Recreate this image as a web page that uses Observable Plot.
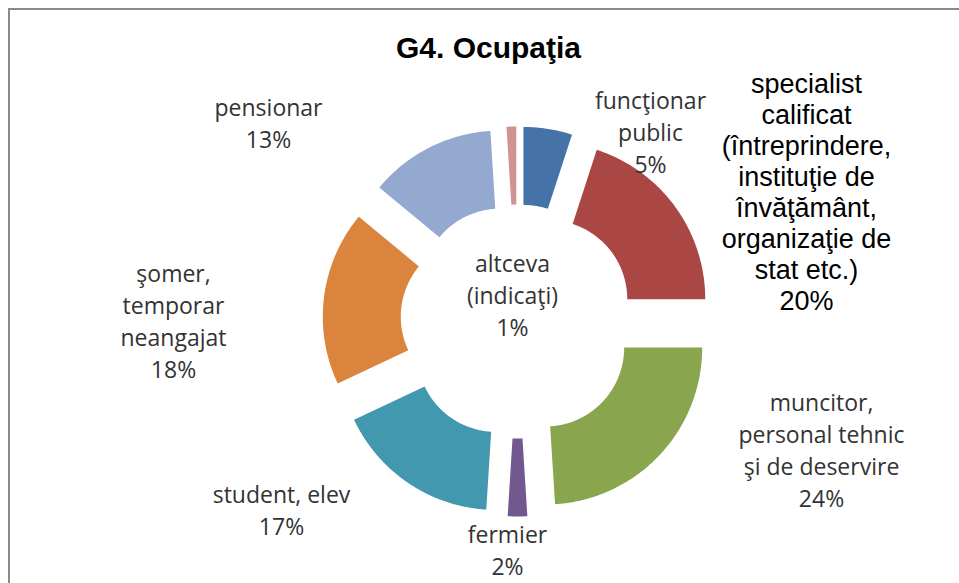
<!DOCTYPE html>
<html><head><meta charset="utf-8">
<script src="https://cdn.jsdelivr.net/npm/d3@7"></script>
<script src="https://cdn.jsdelivr.net/npm/@observablehq/plot@0.6"></script>
<style>
html,body{margin:0;padding:0;background:#fff;overflow:hidden;}
#wrap{position:relative;width:959px;height:583px;}
#chart{position:absolute;left:0;top:0;}
#frame{position:absolute;left:8px;top:8px;width:2000px;height:2000px;border-top:2px solid #8a8a8a;border-left:2px solid #8a8a8a;box-sizing:border-box;pointer-events:none;}
#title{position:absolute;left:0;top:33px;width:977px;margin:0;text-align:center;font:bold 30px/30px "Liberation Sans",Arial,sans-serif;color:#000;}
</style></head><body>
<div id="wrap"><div id="chart"></div><div id="frame"></div><h1 id="title">G4. Ocupaţia</h1></div>
<script>
// ---- data ----
const categories = ["funcţionar public", "specialist calificat", "muncitor", "fermier", "student, elev", "şomer", "pensionar", "altceva"];
const values = [5, 20, 24, 2, 17, 18, 13, 1];
const labelLines = [
  ["funcţionar", "public"],
  ["specialist", "calificat", "(întreprindere,", "instituţie de", "învăţământ,", "organizaţie de", "stat etc.)"],
  ["muncitor,", "personal tehnic", "şi de deservire"],
  ["fermier"],
  ["student, elev"],
  ["şomer,", "temporar", "neangajat"],
  ["pensionar"],
  ["altceva", "(indicaţi)"]
];
const colors = ["#4572A7", "#AA4643", "#89A54E", "#71588F", "#4198AF", "#DB843D", "#93A9CF", "#D19392"];

// ---- layout ----
const W = 959, H = 583;
const center = [517, 321];
const outerR = 157, innerR = 79, explode = 38;
const labelOffsets = [[133, -191], [289, -130], [304, 127], [-10, 227], [-236, 187], [-344, -2], [-249, -200], [-5, -28]];

// ---- build slice polygons from values ----
const total = d3.sum(values);
const slicePts = [];
let cum = 0;
values.forEach((v, i) => {
  const a0 = cum / total * 2 * Math.PI;
  const a1 = (cum + v) / total * 2 * Math.PI;
  cum += v;
  const mid = (a0 + a1) / 2;
  const ox = center[0] + explode * Math.sin(mid);
  const oy = center[1] - explode * Math.cos(mid);
  const n = Math.max(4, Math.ceil((a1 - a0) / 0.01));
  for (let k = 0; k <= n; k++) {
    const a = a0 + (a1 - a0) * k / n;
    slicePts.push({cat: categories[i], x: ox + outerR * Math.sin(a), y: oy - outerR * Math.cos(a)});
  }
  for (let k = n; k >= 0; k--) {
    const a = a0 + (a1 - a0) * k / n;
    slicePts.push({cat: categories[i], x: ox + innerR * Math.sin(a), y: oy - innerR * Math.cos(a)});
  }
});

const labels = categories.map((c, i) => ({
  cat: c,
  text: labelLines[i].join("\n") + "\n" + values[i] + "%",
  x: center[0] + labelOffsets[i][0],
  y: center[1] + labelOffsets[i][1]
}));
const specialLabel = labels.filter((d, i) => i === 1);
const otherLabels = labels.filter((d, i) => i !== 1);

const chart = Plot.plot({
  width: W, height: H, margin: 0,
  x: {domain: [0, W], range: [0, W], axis: null},
  y: {domain: [0, H], range: [0, H], axis: null},
  color: {domain: categories, range: colors},
  marks: [
    Plot.line(slicePts, {x: "x", y: "y", z: "cat", fill: "cat", stroke: "none", curve: "linear-closed"}),
    Plot.text(otherLabels, {x: "x", y: "y", text: "text", fontFamily: "'Open Sans', sans-serif", fontSize: 23, lineHeight: 1.39, fill: "#333", lineAnchor: "middle"}),
    Plot.text(specialLabel, {x: "x", y: "y", text: "text", fontFamily: "'Liberation Sans', Arial, sans-serif", fontSize: 27, lineHeight: 1.15, fill: "#000", lineAnchor: "middle"})
  ]
});
document.getElementById("chart").appendChild(chart);
</script>
</body></html>
